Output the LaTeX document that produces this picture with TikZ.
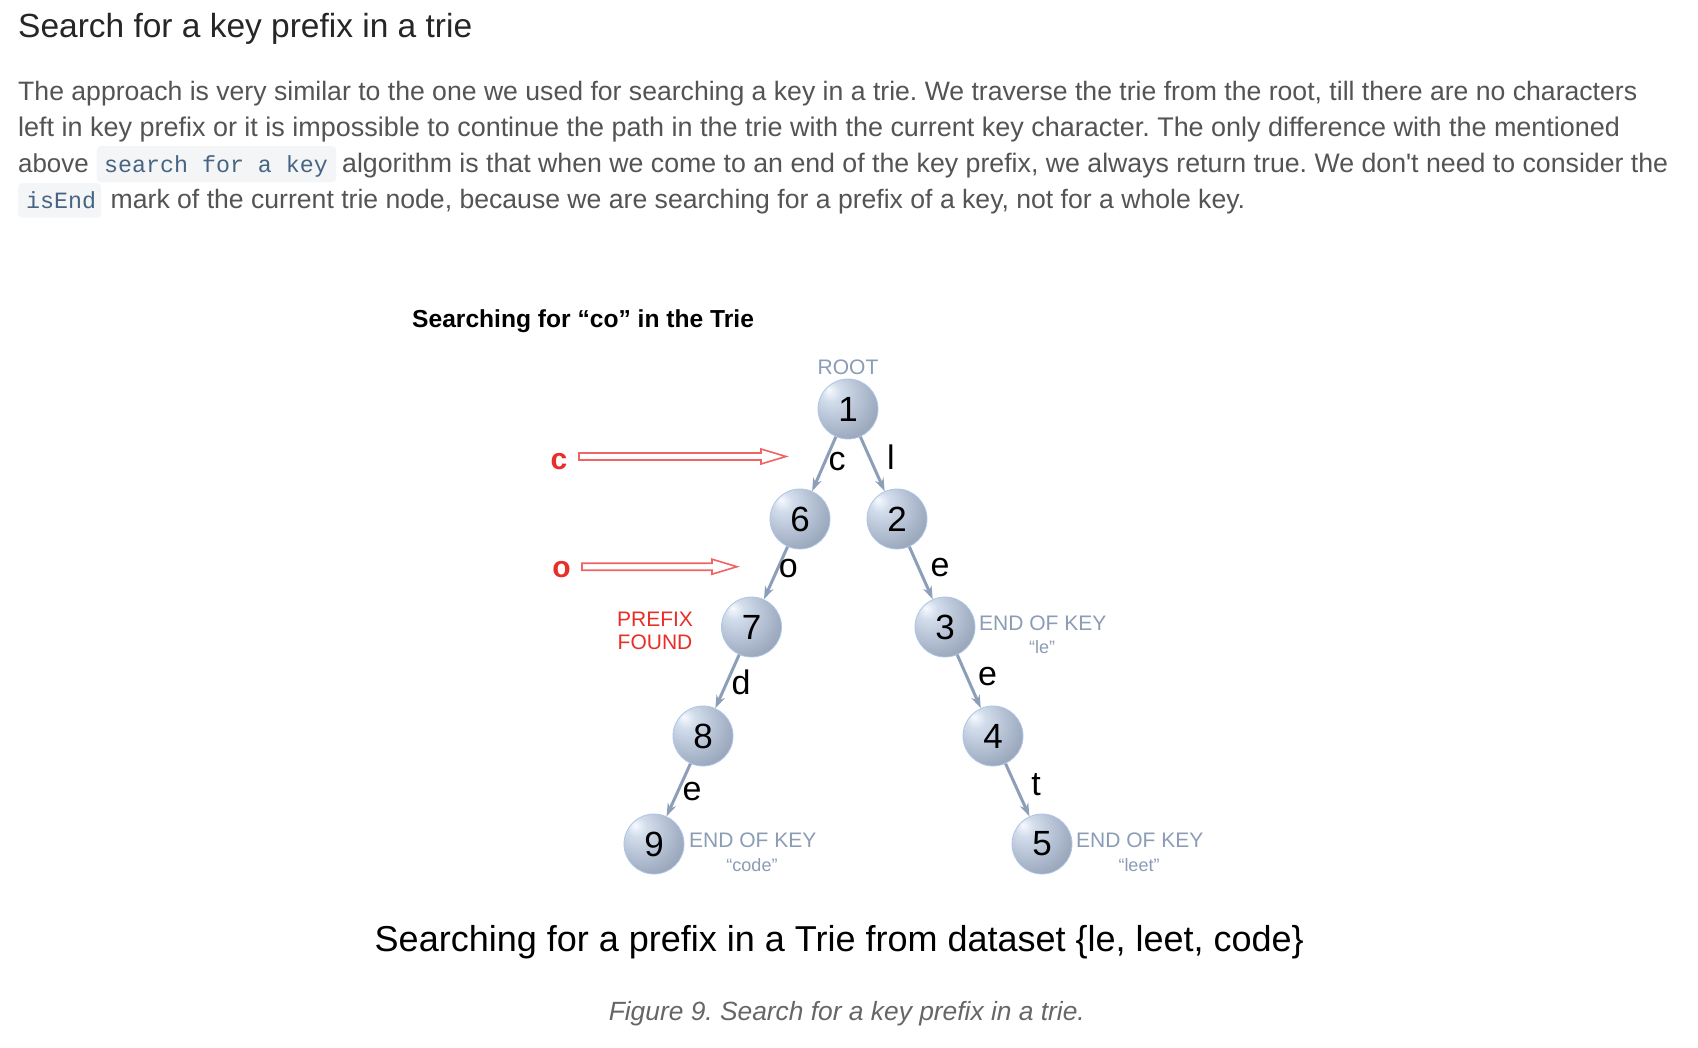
\documentclass[tikz,border=0pt]{standalone}
\usepackage{fontspec}
\setmainfont{Liberation Sans}[Ligatures=TeXOff]
\newfontfamily\monofont{Liberation Mono}
\usepackage{graphicx}
\usetikzlibrary{arrows.meta,calc}
\definecolor{titlecol}{RGB}{38,38,38}
\definecolor{bodycol}{RGB}{84,84,84}
\definecolor{codebg}{RGB}{243,245,247}
\definecolor{codecol}{RGB}{71,101,130}
\definecolor{figcol}{RGB}{102,102,102}
\definecolor{keycol}{RGB}{139,156,182}
\definecolor{edgecol}{RGB}{140,158,184}
\definecolor{redtxt}{RGB}{232,46,38}
\definecolor{redline}{RGB}{240,100,100}
\definecolor{rimcol}{RGB}{172,198,232}
\definecolor{sphA}{RGB}{248,250,254}
\definecolor{sphB}{RGB}{210,221,236}
\definecolor{sphC}{RGB}{164,177,197}
\definecolor{sphD}{RGB}{122,131,146}
\definecolor{sphE}{RGB}{98,105,118}
\pgfdeclareradialshading{sphere}{\pgfpoint{-16bp}{16bp}}{color(0bp)=(sphA); color(8bp)=(sphB); color(30bp)=(sphC); color(52bp)=(sphD); color(72bp)=(sphE)}
\newcommand{\bodyfnt}{\fontsize{24}{28}\selectfont}
\newcommand{\hollowarrow}[2]{%
  \draw[redarrow] ($(#1)+(0,-3.5)$) -- ($(#2)+(-25,-3.5)$) -- ($(#2)+(-25,-7.5)$) -- (#2) -- ($(#2)+(-25,7.5)$) -- ($(#2)+(-25,3.5)$) -- ($(#1)+(0,3.5)$) -- cycle;}
\frenchspacing
\begin{document}
\frenchspacing
\begin{tikzpicture}[x=1pt,y=-1pt,
  trienode/.style={circle, minimum size=60pt, inner sep=0pt, shade, shading=sphere, draw=rimcol, line width=0.8pt, font=\fontsize{35}{35}\selectfont},
  trieedge/.style={draw=edgecol, line width=3pt, -{Stealth[length=13pt,width=9pt]}},
  elabel/.style={inner sep=0pt, font=\fontsize{34}{34}\selectfont},
  keylbl/.style={inner sep=0pt, text=keycol, font=\fontsize{21}{21}\selectfont},
  quotelbl/.style={inner sep=0pt, text=keycol, font=\fontsize{18}{18}\selectfont},
  redlbl/.style={inner sep=0pt, text=redtxt, font=\fontsize{21}{21}\selectfont},
  redletter/.style={inner sep=0pt, text=redtxt, font=\fontsize{30}{30}\selectfont\bfseries},
  redarrow/.style={draw=redline, fill=white, line width=1.6pt, line join=miter},
  bodyline/.style={anchor=base west, inner sep=0pt, text=bodycol},
  codebox/.style={anchor=north west, fill=codebg, rounded corners=4pt, inner sep=0pt},
  codetext/.style={anchor=base west, inner sep=0pt, text=codecol, font=\monofont\fontsize{23.3}{28}\selectfont}
]
\useasboundingbox[fill=white] (0,0) rectangle (1698,1048);

% heading and paragraph
\node[anchor=base west, inner sep=0pt, text=titlecol] (title) at (18,37.5) {\resizebox{454pt}{!}{\fontsize{29}{34}\selectfont Search for a key prefix in a trie}};
\node[bodyline] (l1) at (18,100.5) {\resizebox{1619pt}{!}{\bodyfnt The approach is very similar to the one we used for searching a key in a trie. We traverse the trie from the root, till there are no characters}};
\node[bodyline] (l2) at (18,136.5) {\resizebox{1602pt}{!}{\bodyfnt left in key prefix or it is impossible to continue the path in the trie with the current key character. The only difference with the mentioned}};
\node[bodyline] (l3a) at (18,173) {\resizebox{70.5pt}{!}{\bodyfnt above}};
\node[codebox, minimum width=239.5pt, minimum height=36pt] (cb1) at (96.5,146) {};
\node[codetext] (ct1) at (104,173) {search for a key};
\node[bodyline] (l3b) at (342,173) {\resizebox{1326pt}{!}{\bodyfnt algorithm is that when we come to an end of the key prefix, we always return true. We don't need to consider the}};
\node[codebox, minimum width=83pt, minimum height=34.5pt] (cb2) at (18,183) {};
\node[codetext] (ct2) at (26,209) {isEnd};
\node[bodyline] (l4) at (110.5,209) {\resizebox{1134.5pt}{!}{\bodyfnt mark of the current trie node, because we are searching for a prefix of a key, not for a whole key.}};

% diagram title
\node[anchor=base west, inner sep=0pt, font=\fontsize{24.6}{25}\selectfont\bfseries] (dtitle) at (412,328) {Searching for “co” in the Trie};

% trie nodes
\node[keylbl] (root) at (848,367.5) {ROOT};
\node[trienode] (n1) at (848,409) {1};
\node[trienode] (n6) at (800,519) {6};
\node[trienode] (n2) at (897,519) {2};
\node[trienode] (n7) at (751.5,627) {7};
\node[trienode] (n3) at (945,627) {3};
\node[trienode] (n8) at (703,736) {8};
\node[trienode] (n4) at (993,736) {4};
\node[trienode] (n9) at (654,844) {9};
\node[trienode] (n5) at (1042,844) {5};

% edges
\draw[trieedge] (n1) -- (n6);
\draw[trieedge] (n1) -- (n2);
\draw[trieedge] (n6) -- (n7);
\draw[trieedge] (n2) -- (n3);
\draw[trieedge] (n7) -- (n8);
\draw[trieedge] (n3) -- (n4);
\draw[trieedge] (n8) -- (n9);
\draw[trieedge] (n4) -- (n5);

% edge labels
\node[elabel] (lc) at (837,461.7) {c};
\node[elabel] (ll) at (891,456.7) {l};
\node[elabel] (lo) at (788.4,568.5) {o};
\node[elabel] (le1) at (940,568) {e};
\node[elabel] (ld) at (741,682.7) {d};
\node[elabel] (le2) at (987.6,676.7) {e};
\node[elabel] (le3) at (692,791.7) {e};
\node[elabel] (lt) at (1036,785) {t};

% end of key labels
\node[keylbl, anchor=west] (k3) at (979,623.3) {END OF KEY};
\node[quotelbl] (q3) at (1042,646.7) {“le”};
\node[keylbl, anchor=west] (k9) at (689,840.5) {END OF KEY};
\node[quotelbl] (q9) at (752,865) {“code”};
\node[keylbl, anchor=west] (k5) at (1076,840.5) {END OF KEY};
\node[quotelbl] (q5) at (1139,865) {“leet”};

% prefix found
\node[redlbl] (pf1) at (655,619) {PREFIX};
\node[redlbl] (pf2) at (655,642.5) {FOUND};

% red search arrows
\node[redletter] (rc) at (559,461.7) {c};
\node[redletter] (ro) at (561.5,570) {o};
\coordinate (ca0) at (579,456.5);
\coordinate (ca1) at (786,456.5);
\coordinate (oa0) at (582,566.7);
\coordinate (oa1) at (737,566.7);
\hollowarrow{ca0}{ca1}
\hollowarrow{oa0}{oa1}

% captions
\node[inner sep=0pt, font=\fontsize{36}{36}\selectfont] (cap) at (839.3,942.5) {Searching for a prefix in a Trie from dataset \{le, leet, code\}};
\node[inner sep=0pt, text=figcol] (fig) at (846.8,1014) {\resizebox{476pt}{!}{\bodyfnt\itshape Figure 9. Search for a key prefix in a trie.}};
\end{tikzpicture}
\end{document}
